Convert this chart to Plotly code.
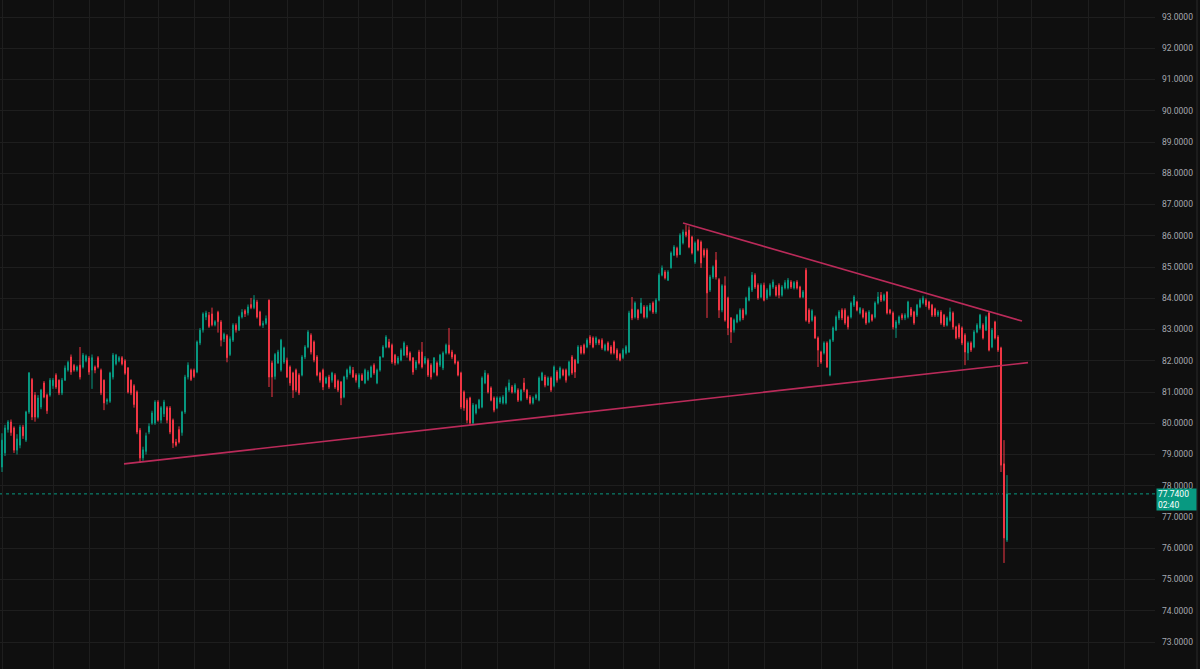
import plotly.graph_objects as go

# ---------------- data ----------------
open_ = [
78.60,79.05,79.80,80.04,79.85,79.14,79.30,79.88,79.46,80.36,
81.40,80.90,80.20,80.52,81.29,80.90,80.90,81.20,81.54,81.38,
80.97,81.38,81.70,82.12,81.85,81.70,81.86,81.80,82.00,82.09,
81.70,81.80,82.10,81.70,81.38,80.70,80.70,81.48,81.90,82.00,
82.10,82.00,81.77,81.38,81.20,81.00,79.78,78.89,79.10,79.72,
80.00,80.01,80.68,80.10,80.30,80.50,80.49,80.10,79.40,79.80,
79.70,80.36,81.48,81.70,81.70,81.64,82.57,82.98,83.40,83.46,
83.50,83.15,83.55,83.24,82.70,82.80,82.20,82.66,83.14,82.98,
83.40,83.60,83.53,83.80,83.70,83.88,83.56,83.14,83.20,83.94,
81.93,81.50,81.93,81.70,81.96,82.02,81.80,81.61,81.70,81.54,
81.54,82.12,82.44,82.82,82.60,82.12,81.61,81.70,81.29,81.48,
81.38,81.54,81.35,81.32,80.84,81.48,81.61,81.70,81.54,81.16,
81.54,81.29,81.40,81.48,81.86,81.29,81.70,82.12,82.44,82.60,
82.50,82.18,81.93,82.02,82.18,82.44,82.25,82.09,81.77,82.28,
82.28,81.93,82.02,81.86,81.64,81.93,81.86,81.77,82.25,82.50,
82.28,82.18,81.96,81.61,81.00,80.74,80.81,80.01,80.33,80.49,
80.52,81.29,81.54,81.13,80.81,80.49,80.68,80.65,80.65,81.06,
81.16,81.00,81.06,80.74,81.29,81.06,80.84,80.65,80.81,80.74,
81.38,81.48,81.22,81.45,81.20,81.64,81.45,81.70,81.70,81.54,
82.12,82.02,81.93,82.44,82.50,82.44,82.76,82.73,82.57,82.66,
82.66,82.34,82.57,82.44,82.60,82.34,82.20,82.10,82.25,82.28,
83.65,83.40,83.62,83.53,83.72,83.40,83.62,83.85,83.56,83.94,
84.74,84.84,84.58,84.97,85.38,85.60,85.40,85.77,86.12,86.18,
85.96,85.16,85.86,85.80,85.54,85.54,84.26,84.68,85.22,84.60,
83.62,84.40,84.01,83.37,82.98,83.24,83.30,83.62,83.50,83.94,
84.26,84.74,84.42,84.04,84.42,84.01,84.10,84.36,84.36,84.42,
84.10,84.33,84.33,84.52,84.33,84.52,84.36,84.04,84.90,83.62,
83.30,83.40,82.73,82.28,82.25,82.57,81.54,82.66,82.98,83.37,
83.62,83.62,83.40,83.40,83.78,83.88,83.53,83.62,83.53,83.24,
83.46,83.40,83.85,84.10,83.94,84.20,83.62,83.53,83.05,83.21,
83.46,83.37,83.40,83.66,83.56,83.46,83.72,83.85,83.94,83.88,
83.78,83.66,83.46,83.56,83.46,83.14,83.30,83.53,83.08,83.14,
83.05,82.82,82.25,82.57,82.44,82.92,83.05,83.14,82.98,83.53,
82.44,83.24,82.76,82.41,78.70,76.26]

high = [
79.68,79.95,80.10,80.12,79.90,79.65,79.95,79.95,80.40,81.64,
81.45,81.00,80.90,81.10,81.35,80.95,81.45,81.45,81.60,81.40,
81.45,81.85,82.00,82.20,81.90,81.85,82.44,82.25,82.20,82.15,
82.20,81.85,82.15,81.75,81.40,80.80,81.65,82.25,82.22,82.15,
82.15,82.05,81.80,81.40,81.25,81.05,79.85,79.25,79.70,80.00,
80.40,80.74,80.74,80.55,80.75,80.55,80.55,80.15,79.50,79.90,
80.40,81.55,81.95,81.75,81.75,82.65,83.05,83.55,83.60,83.56,
83.70,83.30,83.60,83.30,82.90,82.85,82.78,83.20,83.20,83.45,
83.65,83.65,83.80,84.01,84.10,83.95,83.60,83.28,83.45,83.96,
82.00,82.25,82.35,82.70,82.45,82.10,81.85,81.65,81.75,81.60,
82.18,82.50,82.98,82.88,82.65,82.18,81.65,81.75,81.50,81.55,
81.65,81.60,81.40,81.35,81.52,81.75,81.85,81.80,81.60,81.60,
81.60,81.75,81.70,81.85,81.92,81.75,82.15,82.50,82.82,82.70,
82.55,82.22,82.15,82.40,82.62,82.50,82.30,82.12,82.02,82.35,
82.60,82.15,82.08,81.92,82.12,81.98,82.22,82.30,82.55,83.05,
82.35,82.22,82.00,81.65,81.05,80.80,80.85,80.65,80.62,80.78,
81.50,81.70,81.60,81.18,80.86,80.86,80.86,80.90,81.18,81.40,
81.22,81.28,81.12,81.10,81.45,81.10,80.90,80.86,80.95,81.50,
81.65,81.55,81.50,81.50,81.85,81.70,81.82,81.75,81.75,82.00,
82.18,82.06,82.50,82.50,82.55,82.72,82.82,82.78,82.78,82.70,
82.72,82.55,82.62,82.50,82.65,82.40,82.25,82.40,82.50,83.60,
84.04,83.90,83.66,84.01,83.78,83.78,83.85,83.90,84.00,84.80,
85.05,84.90,84.90,85.50,85.70,85.65,86.08,86.20,86.34,86.30,
86.00,85.82,85.90,85.85,85.60,85.60,84.75,85.05,85.48,84.65,
84.45,84.70,84.05,83.40,83.35,83.50,83.68,83.68,84.05,84.38,
84.84,84.80,84.48,84.48,84.50,84.32,84.48,84.60,84.42,84.48,
84.42,84.58,84.65,84.58,84.55,84.58,84.40,84.26,84.97,83.68,
83.65,83.45,82.78,82.32,82.62,82.62,82.70,83.10,83.45,83.62,
83.68,83.68,83.45,83.90,84.10,83.92,83.72,83.68,83.58,83.62,
83.50,83.90,84.20,84.20,84.15,84.22,83.66,83.58,83.30,83.45,
83.52,83.52,83.92,83.72,83.60,83.82,84.00,84.08,84.00,83.92,
83.82,83.70,83.62,83.62,83.50,83.42,83.70,83.58,83.12,83.20,
83.10,82.88,82.62,82.62,82.98,83.20,83.50,83.20,83.45,83.56,
83.05,83.28,82.82,82.45,79.46,78.34]

low = [
78.44,78.95,79.70,79.60,79.05,79.00,79.20,79.50,79.40,80.30,
80.10,80.05,80.15,80.45,80.80,80.30,80.85,81.10,81.10,80.90,
80.90,81.35,81.65,81.55,81.65,81.65,81.40,81.75,81.95,81.55,
81.10,81.60,81.75,80.90,80.42,80.60,80.65,81.40,81.85,81.95,
81.85,81.55,80.95,80.90,80.50,79.65,78.73,78.80,79.00,79.65,
79.95,79.95,80.05,80.00,80.20,80.00,79.65,79.21,79.25,79.35,
79.60,80.30,81.40,81.35,81.45,81.60,82.50,82.90,83.30,83.05,
83.10,83.10,82.90,82.46,82.60,81.95,82.15,82.60,82.90,82.95,
83.35,83.40,83.45,83.65,83.65,83.35,83.10,83.05,83.15,81.16,
80.84,81.40,81.90,81.65,81.90,81.45,81.20,80.81,81.00,80.90,
81.50,82.05,82.40,82.20,81.95,81.50,81.30,81.06,81.25,81.10,
81.30,81.10,81.00,80.58,80.80,81.40,81.55,81.45,81.30,81.10,
81.35,81.25,81.35,81.45,81.55,81.25,81.65,82.10,82.40,82.40,
81.90,81.85,81.88,81.98,82.15,82.10,81.98,81.55,81.70,81.88,
81.75,81.88,81.48,81.40,81.60,81.50,81.80,81.70,82.20,82.20,
82.05,81.88,81.50,80.45,80.40,80.00,79.95,79.94,80.28,80.45,
80.48,81.25,80.95,80.70,80.35,80.45,80.62,80.60,80.60,81.00,
80.95,80.95,80.68,80.70,81.00,80.75,80.60,80.60,80.75,80.70,
81.35,81.15,81.20,81.00,81.15,81.30,81.40,81.50,81.30,81.50,
81.55,81.45,81.90,82.20,82.20,82.40,82.50,82.40,82.50,82.50,
82.35,82.30,82.30,82.20,82.20,82.02,81.98,82.05,82.20,82.25,
83.30,83.35,83.30,83.50,83.35,83.35,83.58,83.50,83.50,83.90,
84.70,84.60,84.55,84.95,85.35,85.30,85.38,85.72,85.95,85.60,
85.40,85.10,85.50,84.97,85.30,83.37,84.20,84.62,84.60,83.37,
83.55,83.25,82.82,82.57,82.90,83.20,83.25,83.30,83.45,83.90,
84.20,84.30,83.95,84.00,83.90,83.95,84.05,84.30,84.05,84.00,
84.05,84.28,84.28,84.30,84.28,84.28,84.00,84.00,83.25,83.18,
83.25,82.70,81.80,81.90,82.20,81.77,81.50,82.60,82.95,83.30,
83.30,83.15,83.00,83.35,83.72,83.58,83.48,83.35,83.15,83.20,
83.25,83.35,83.80,83.88,83.90,83.48,83.48,83.00,82.73,83.15,
83.30,83.30,83.35,83.40,83.15,83.40,83.68,83.80,83.72,83.62,
83.40,83.40,83.40,83.15,83.08,83.10,83.25,83.00,82.68,82.70,
82.50,81.86,82.02,82.28,82.40,82.88,83.00,82.68,82.95,82.30,
82.40,82.68,82.28,78.44,75.53,76.20]

close = [
79.46,79.85,80.04,79.70,79.14,79.50,79.88,79.60,80.36,81.61,
80.20,80.20,80.81,81.06,80.84,80.40,81.38,81.38,81.16,80.97,
81.38,81.77,81.95,81.64,81.70,81.80,81.48,82.18,82.15,81.64,
82.10,81.70,81.80,80.97,80.65,80.75,81.61,82.18,82.18,82.10,
81.90,81.60,81.00,80.97,80.60,79.72,78.89,79.15,79.60,79.90,
80.33,80.68,80.10,80.50,80.68,80.10,79.72,79.37,79.30,79.40,
80.36,81.48,81.86,81.40,81.50,82.60,82.98,83.50,83.53,83.10,
83.15,83.25,83.25,82.66,82.85,82.10,82.70,83.14,82.98,83.40,
83.55,83.50,83.72,83.70,83.95,83.40,83.14,83.20,83.35,81.48,
81.48,82.20,82.28,82.66,82.41,81.48,81.29,81.06,81.06,80.97,
82.12,82.44,82.92,82.28,82.02,81.54,81.38,81.16,81.45,81.16,
81.61,81.16,81.06,80.81,81.48,81.70,81.80,81.48,81.38,81.54,
81.38,81.70,81.64,81.80,81.61,81.70,82.12,82.44,82.76,82.44,
81.96,81.93,82.09,82.34,82.57,82.18,82.02,81.64,81.96,81.93,
81.80,82.09,81.54,81.48,82.09,81.54,82.18,82.25,82.50,82.25,
82.12,81.93,81.54,80.52,80.49,80.10,80.01,80.58,80.58,80.74,
81.45,81.61,81.00,80.74,80.42,80.81,80.81,80.84,81.13,81.29,
81.00,81.22,80.74,81.06,81.06,80.81,80.65,80.81,80.90,81.45,
81.61,81.22,81.45,81.06,81.80,81.38,81.77,81.54,81.38,81.96,
81.61,81.64,82.44,82.25,82.25,82.66,82.57,82.44,82.73,82.57,
82.41,82.50,82.34,82.25,82.25,82.09,82.02,82.34,82.45,83.53,
83.37,83.85,83.37,83.85,83.40,83.72,83.78,83.56,83.94,84.74,
84.97,84.65,84.84,85.45,85.64,85.38,86.02,86.12,86.02,85.64,
85.45,85.77,85.54,85.13,85.38,84.17,84.68,85.00,84.68,83.62,
84.40,83.30,83.05,82.92,83.30,83.46,83.62,83.37,84.01,84.33,
84.74,84.36,84.01,84.42,83.94,84.26,84.42,84.52,84.10,84.10,
84.36,84.50,84.58,84.36,84.50,84.33,84.04,84.20,83.30,83.24,
83.60,82.73,82.34,81.96,82.57,81.80,82.66,83.05,83.40,83.56,
83.37,83.21,83.08,83.85,84.04,83.62,83.68,83.40,83.21,83.56,
83.30,83.85,84.04,83.94,84.10,83.53,83.53,83.08,83.24,83.40,
83.37,83.46,83.88,83.46,83.21,83.78,83.94,84.01,83.78,83.68,
83.46,83.46,83.56,83.21,83.14,83.37,83.56,83.08,82.73,82.76,
82.57,82.28,82.57,82.34,82.92,83.14,83.46,82.73,83.40,82.34,
82.98,82.73,82.34,78.66,76.33,77.74]

bar_index = list(range(len(close)))

# trend lines drawn on the chart (bar index, price)
support_idx = [40.67, 342.0]
support_px = [78.70, 81.94]
resist_idx = [227.0, 340.0]
resist_px = [86.41, 83.27]

last_price = 77.74
countdown = "02:40"
price_ticks = list(range(73, 94))
# time-grid positions (bar index) of the vertical grid lines
time_grid = [0.33, 17.33, 29, 40.67, 52.33, 64.33, 75.67, 95.33, 107, 118.67,
             130, 141.33, 153, 165, 184, 195.67, 207.33, 219, 230.67, 242.33,
             254, 273.33, 285, 296.67, 308.33, 320, 331.67, 343.33, 362.33, 374]

# ---------------- style ----------------
BG = "#0f0f0f"
GRID = "#1e1e1e"
UP = "#089981"
DOWN = "#f23645"
TREND = "rgba(196,44,94,0.95)"
TXT = "#a6a9b0"

fig = go.Figure()
fig.add_trace(go.Candlestick(
    x=bar_index, open=open_, high=high, low=low, close=close,
    increasing=dict(line=dict(color=UP, width=1), fillcolor=UP),
    decreasing=dict(line=dict(color=DOWN, width=1), fillcolor=DOWN),
    whiskerwidth=0, hoverinfo="skip", showlegend=False,
))

fig.add_trace(go.Scatter(x=support_idx, y=support_px, mode="lines",
                         line=dict(color=TREND, width=1.6), hoverinfo="skip", showlegend=False))
fig.add_trace(go.Scatter(x=resist_idx, y=resist_px, mode="lines",
                         line=dict(color=TREND, width=1.6), hoverinfo="skip", showlegend=False))

# current price dotted line
fig.add_shape(type="line", xref="paper", x0=0, x1=1, yref="y", y0=last_price, y1=last_price,
              line=dict(color=UP, width=1, dash="dot"), layer="below")
# price scale right border
fig.add_shape(type="line", xref="paper", x0=1197/1155, x1=1197/1155, yref="paper", y0=0, y1=1,
              line=dict(color="#2a2a2a", width=1))

fig.add_annotation(xref="paper", x=1.0012, yref="y", y=last_price, xanchor="left", yanchor="top",
                   text=f"{last_price:.4f}<br>{countdown}", showarrow=False, align="left",
                   font=dict(family="Roboto, sans-serif", size=8.5, color="#ffffff"),
                   bgcolor=UP, width=37, height=19, borderpad=1, yshift=6)

W, H = 1200, 669
plot_w = 1155
px_per_bar = 3.0
x0 = -2 / px_per_bar
fig.update_layout(
    width=W, height=H,
    margin=dict(l=0, r=W - plot_w, t=0, b=0),
    paper_bgcolor=BG, plot_bgcolor=BG,
    boxgap=0.55,
    xaxis=dict(range=[x0, x0 + plot_w / px_per_bar], rangeslider=dict(visible=False),
               showticklabels=False, tickmode="array", tickvals=time_grid,
               showgrid=True, gridcolor=GRID, gridwidth=1, zeroline=False, showline=False, ticks=""),
    yaxis=dict(side="right", range=[73 - 27 / 31.25, 93 + 17 / 31.25],
               tickmode="array", tickvals=price_ticks, ticktext=[f"{v:.4f}" for v in price_ticks],
               showgrid=True, gridcolor=GRID, gridwidth=1, zeroline=False, showline=False, ticks="",
               ticklabelstandoff=6,
               tickfont=dict(family="Roboto, sans-serif", size=8.5, color=TXT)),
    font=dict(family="Roboto, sans-serif"),
)

fig.write_html("out.html")
